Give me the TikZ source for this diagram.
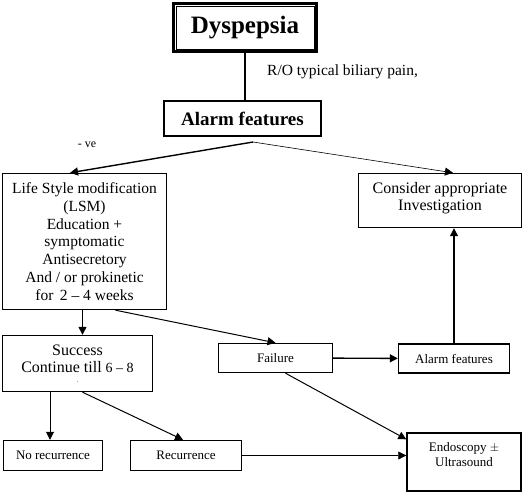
\documentclass[tikz,border=0pt]{standalone}
\usepackage{fontspec}
\setmainfont{Liberation Serif}
\usetikzlibrary{arrows.meta,positioning}

\begin{document}
\begin{tikzpicture}[
    x=1pt, y=-1pt,
    box/.style={draw=black, line width=1.4pt, align=center, inner sep=2pt},
    smallbox/.style={box, font=\fontsize{13}{15}\selectfont},
    arrowline/.style={-{Triangle[length=8pt,width=8pt]}, line width=1pt},
    thinarrow/.style={-{Triangle[length=8pt,width=8pt]}, line width=0.6pt},
]
    \useasboundingbox (0,0) rectangle (524,493);
    % Top
    \node[box, line width=3pt, minimum width=143pt, minimum height=48pt,
          font=\fontsize{25}{29}\selectfont\bfseries] (dys) at (245,27.5) {Dyspepsia};
    \draw[line width=0.8pt] ([shift={(4pt,-4pt)}]dys.north west) rectangle ([shift={(-4pt,4pt)}]dys.south east);
    \node[box, minimum width=157pt, minimum height=35pt,
          font=\fontsize{19}{22}\selectfont\bfseries] (alarm) at (242.5,118.5) {Alarm features};
    \node[anchor=west, inner sep=0pt, font=\fontsize{15.5}{17}\selectfont] (ro) at (267,72) {R/O typical biliary pain,};
    \draw[line width=1.4pt] (dys.south) -- (dys.south |- alarm.north);
    \coordinate (fork) at (253,142);
    % Second row
    \node[box, minimum width=164pt, minimum height=136pt,
          font=\fontsize{15.5}{17.8}\selectfont] (lsm) at (84.5,241.5)
        {Life Style modification\\(LSM)\\Education +\\symptomatic\\Antisecretory\\And / or prokinetic\\for\, 2 -- 4 weeks};
    \node[box, minimum width=163pt, minimum height=54pt,
          font=\fontsize{16}{17}\selectfont] (consider) at (440,200.5)
        {Consider appropriate\\Investigation\\[-8pt]};
    \node[font=\fontsize{12}{14}\selectfont, inner sep=0pt] (neg) at (87,145) {- ve};
    \draw[arrowline, line width=1.4pt] (fork) -- ([xshift=-14.5pt]lsm.north);
    \draw[thinarrow] (fork) -- ([xshift=13pt]consider.north);
    % Third row
    \node[box, minimum width=150pt, minimum height=56pt,
          font=\fontsize{16}{17}\selectfont] (success) at (77.5,363.5)
        {Success\\Continue till {\fontsize{14}{14}\selectfont 6 -- 8}\\[-7pt]{\fontsize{6}{6}\selectfont .}};
    \node[smallbox, minimum width=114pt, minimum height=29pt] (failure) at (275.5,358) {Failure};
    \node[smallbox, minimum width=111pt, minimum height=29pt] (alarmtwo) at (454,358.5) {Alarm features};
    \draw[arrowline, line width=1.4pt] ([xshift=-2pt]lsm.south) -- ([xshift=-2pt]lsm.south |- success.north);
    \draw[arrowline] ([xshift=31pt]lsm.south) -- (failure.north);
    \draw[arrowline, line width=1.4pt] (failure) -- (alarmtwo);
    \draw[arrowline, line width=1.2pt] (alarmtwo) -- (alarmtwo |- consider.south);
    % Bottom row
    \node[smallbox, minimum width=99pt, minimum height=30pt] (norec) at (53,455.5) {No recurrence};
    \node[smallbox, minimum width=111pt, minimum height=30pt] (rec) at (186,455.5) {Recurrence};
    \node[smallbox, minimum width=114pt, minimum height=58pt] (endo) at (464,462) {Endoscopy $\pm$\\Ultrasound\\[0pt]};
    \draw[thinarrow, line width=0.8pt] ([xshift=-3pt]success.south -| norec.north) -- ([xshift=-3pt]norec.north);
    \draw[arrowline] ([xshift=5pt]success.south) -- ([xshift=-3pt]rec.north);
    \draw[arrowline] ([xshift=10pt]failure.south) -- ([yshift=-7pt]endo.north west);
    \draw[thinarrow] (rec.east) -- (rec.east -| endo.west);
\end{tikzpicture}
\end{document}
